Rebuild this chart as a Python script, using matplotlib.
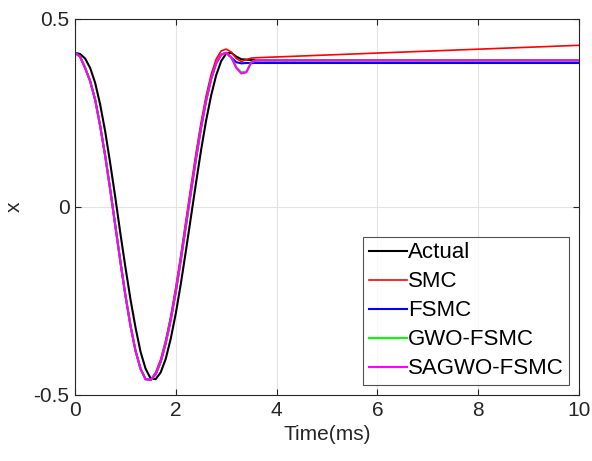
import matplotlib
matplotlib.use("Agg")
import matplotlib.pyplot as plt

plt.rcParams['font.family'] = ['Liberation Sans', 'DejaVu Sans']

# time samples (ms)
t = [0.0, 0.1, 0.2, 0.3, 0.4, 0.5, 0.6, 0.7, 0.8, 0.9,
     1.0, 1.1, 1.2, 1.3, 1.4, 1.5, 1.6, 1.7, 1.8, 1.9,
     2.0, 2.1, 2.2, 2.3, 2.4, 2.5, 2.6, 2.7, 2.8, 2.9,
     3.0, 3.1, 3.2, 3.3, 3.4, 3.5, 3.6, 10.0]

actual = [0.410, 0.407, 0.395, 0.370, 0.330, 0.272, 0.200, 0.115, 0.025, -0.070,
          -0.160, -0.245, -0.320, -0.385, -0.430, -0.456, -0.458, -0.440, -0.404, -0.350,
          -0.283, -0.204, -0.117, -0.027, 0.063, 0.150, 0.229, 0.296, 0.350, 0.388,
          0.408, 0.410, 0.400, 0.393, 0.392, 0.391, 0.390, 0.390]

smc = [0.410, 0.400, 0.370, 0.335, 0.285, 0.215, 0.135, 0.045, -0.050, -0.145,
       -0.235, -0.315, -0.382, -0.430, -0.458, -0.460, -0.440, -0.405, -0.354, -0.290,
       -0.213, -0.127, -0.036, 0.055, 0.143, 0.224, 0.295, 0.352, 0.393, 0.415,
       0.420, 0.412, 0.395, 0.387, 0.392, 0.396, 0.397, 0.430]

fsmc = [0.410, 0.400, 0.370, 0.335, 0.285, 0.215, 0.135, 0.045, -0.050, -0.145,
        -0.235, -0.315, -0.382, -0.430, -0.458, -0.460, -0.445, -0.412, -0.362, -0.300,
        -0.225, -0.140, -0.050, 0.040, 0.128, 0.210, 0.282, 0.340, 0.382, 0.405,
        0.410, 0.398, 0.385, 0.382, 0.383, 0.383, 0.383, 0.383]

gwo_fsmc = [0.410, 0.400, 0.370, 0.335, 0.285, 0.215, 0.135, 0.045, -0.050, -0.145,
            -0.235, -0.315, -0.382, -0.430, -0.458, -0.460, -0.445, -0.412, -0.362, -0.300,
            -0.225, -0.140, -0.050, 0.040, 0.128, 0.210, 0.282, 0.340, 0.382, 0.405,
            0.410, 0.398, 0.372, 0.358, 0.360, 0.386, 0.390, 0.390]

sagwo_fsmc = [0.410, 0.400, 0.370, 0.335, 0.285, 0.215, 0.135, 0.045, -0.050, -0.145,
              -0.235, -0.315, -0.382, -0.430, -0.458, -0.460, -0.445, -0.412, -0.362, -0.300,
              -0.225, -0.140, -0.050, 0.040, 0.128, 0.210, 0.282, 0.340, 0.382, 0.405,
              0.410, 0.398, 0.370, 0.355, 0.358, 0.385, 0.390, 0.390]

labels = ["Actual", "SMC", "FSMC", "GWO-FSMC", "SAGWO-FSMC"]
colors = ["#000000", "#ff0000", "#0000ff", "#00ff00", "#ff00ff"]
widths = [1.5, 1.2, 1.5, 1.5, 1.5]
series = [actual, smc, fsmc, gwo_fsmc, sagwo_fsmc]

xticks = [0, 2, 4, 6, 8, 10]
yticks = [-0.5, 0, 0.5]
ytick_labels = ["-0.5", "0", "0.5"]

fig = plt.figure(figsize=(5.92, 4.61), dpi=100)
ax = fig.add_axes([0.1267, 0.1432, 0.8513, 0.8156])

for y, lab, c, w in zip(series, labels, colors, widths):
    ax.plot(t, y, color=c, lw=w, label=lab)

ax.set_xlim(0, 10)
ax.set_ylim(-0.5, 0.5)
ax.set_xticks(xticks)
ax.set_yticks(yticks)
ax.set_yticklabels(ytick_labels)
ax.grid(True, color="#e3e3e3", lw=0.8)
ax.set_axisbelow(True)
ax.tick_params(direction="in", top=True, right=True, labelsize=15,
               colors="#262626", length=4, width=0.8, pad=4)
for s in ax.spines.values():
    s.set_color("#262626")
    s.set_linewidth(0.8)
ax.set_xlabel("Time(ms)", fontsize=15, color="#262626", labelpad=4)
ax.set_ylabel("x", fontsize=15, color="#262626", labelpad=7)

leg = ax.legend(loc="lower right", fontsize=16, frameon=True, fancybox=False,
                edgecolor="#262626", handlelength=1.7, handletextpad=0.05,
                borderpad=0.25, labelspacing=0.36, borderaxespad=0.45)
leg.get_frame().set_linewidth(0.8)

fig.savefig("out.png", dpi=100)
